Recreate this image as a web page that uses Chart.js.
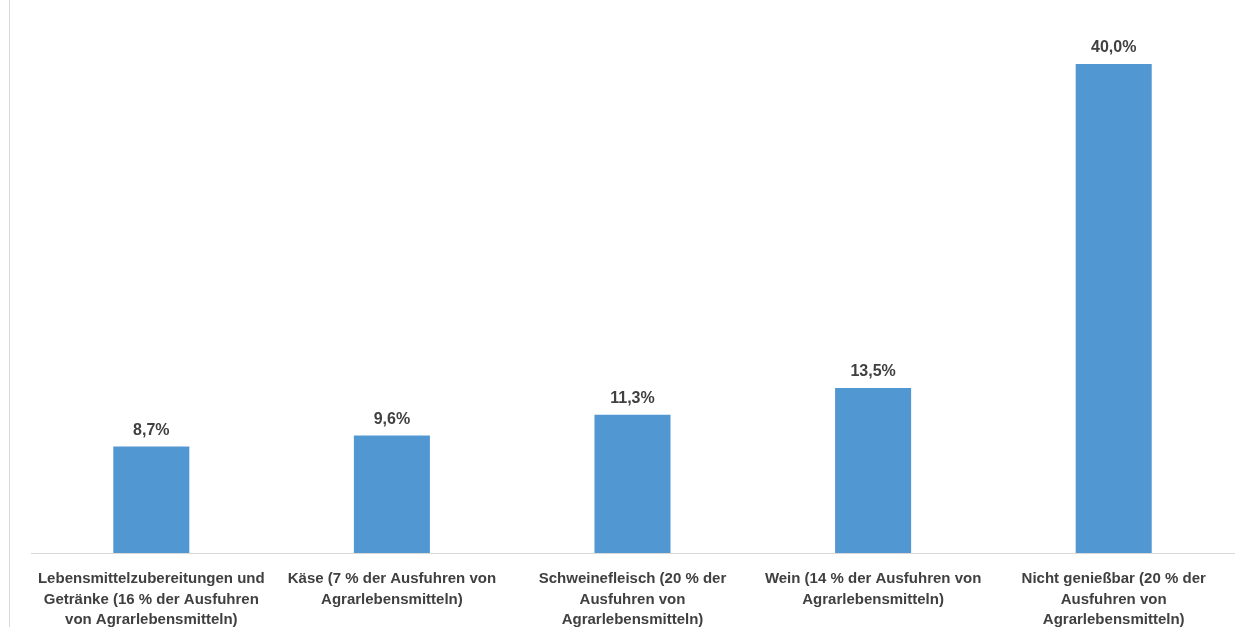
<!DOCTYPE html>
<html>
<head>
<meta charset="utf-8">
<script src="https://cdn.jsdelivr.net/npm/chart.js@4.4.0/dist/chart.umd.min.js"></script>
<style>
    html, body { margin: 0; padding: 0; background: #fff; }
    .wrap { position: relative; width: 1253px; height: 627px; }
    .wrap::before { content: ''; position: absolute; left: 9px; top: 0; bottom: 0; border-left: 1px solid #d9d9d9; }
</style>
</head>
<body>
<div class="wrap"><canvas id="chart" width="1253" height="627"></canvas></div>
<script>
const categories = [
    ['Lebensmittelzubereitungen und', 'Getränke (16 % der Ausfuhren', 'von Agrarlebensmitteln)'],
    ['Käse (7 % der Ausfuhren von', 'Agrarlebensmitteln)'],
    ['Schweinefleisch (20 % der', 'Ausfuhren von', 'Agrarlebensmitteln)'],
    ['Wein (14 % der Ausfuhren von', 'Agrarlebensmitteln)'],
    ['Nicht genießbar (20 % der', 'Ausfuhren von', 'Agrarlebensmitteln)']
];
const shares = [8.7, 9.6, 11.3, 13.5, 40.0];

const textColor = '#404040';
const fontFamily = '"Liberation Sans", Arial, sans-serif';

// Werte über den Balken
const valueLabels = {
    id: 'valueLabels',
    afterDatasetsDraw(chart) {
        const ctx = chart.ctx;
        const meta = chart.getDatasetMeta(0);
        ctx.save();
        ctx.fillStyle = textColor;
        ctx.font = 'bold 16px ' + fontFamily;
        ctx.textAlign = 'center';
        ctx.textBaseline = 'middle';
        meta.data.forEach((bar, i) => {
            const txt = shares[i].toFixed(1).replace('.', ',') + '%';
            ctx.fillText(txt, bar.x, bar.y - 16);
        });
        ctx.restore();
    }
};

new Chart(document.getElementById('chart'), {
    type: 'bar',
    data: {
        labels: categories,
        datasets: [{
            data: shares,
            backgroundColor: '#5197d1',
            borderWidth: 0,
            categoryPercentage: 1,
            barPercentage: 0.316
        }]
    },
    options: {
        responsive: false,
        animation: false,
        layout: { padding: { left: 31, right: 19, top: 15, bottom: 0 } },
        plugins: {
            legend: { display: false },
            tooltip: { enabled: false }
        },
        scales: {
            x: {
                grid: { display: false },
                border: { display: true, color: '#d9d9d9', width: 1 },
                ticks: {
                    color: textColor,
                    font: { family: fontFamily, size: 15, weight: 'bold', lineHeight: 1.36 },
                    padding: 8,
                    maxRotation: 0,
                    autoSkip: false
                },
                afterFit(scale) { scale.height = 74; }
            },
            y: {
                display: false,
                min: 0,
                max: 44
            }
        }
    },
    plugins: [valueLabels]
});
</script>
</body>
</html>
